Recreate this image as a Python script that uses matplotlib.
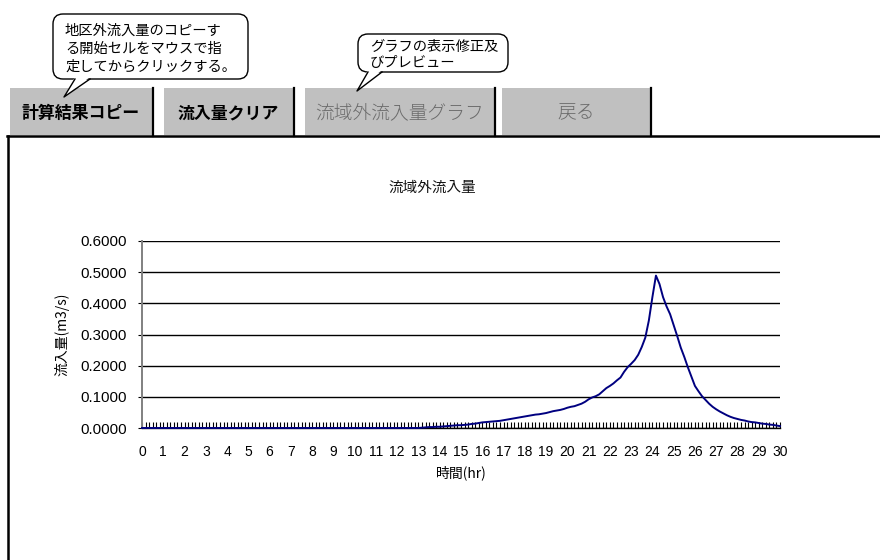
import matplotlib
matplotlib.use("Agg")
import matplotlib.pyplot as plt
from matplotlib.patches import FancyBboxPatch, Rectangle, Polygon
from matplotlib.ticker import MultipleLocator, FormatStrFormatter

plt.rcParams['font.family'] = ['Noto Sans CJK JP', 'DejaVu Sans']

# inflow hydrograph, one value every 10 minutes from 0:00 to 30:00
hours = [i / 6 for i in range(181)]
inflow = [0.000] * 78 + [
    0.000, 0.001, 0.002, 0.003, 0.003, 0.004,   # 13h
    0.004, 0.005, 0.006, 0.007, 0.008, 0.009,   # 14h
    0.009, 0.010, 0.011, 0.013, 0.014, 0.016,   # 15h
    0.018, 0.019, 0.020, 0.021, 0.022, 0.023,   # 16h
    0.025, 0.027, 0.029, 0.031, 0.033, 0.035,   # 17h
    0.037, 0.039, 0.041, 0.043, 0.044, 0.046,   # 18h
    0.048, 0.051, 0.054, 0.056, 0.058, 0.061,   # 19h
    0.065, 0.068, 0.070, 0.074, 0.078, 0.084,   # 20h
    0.092, 0.098, 0.102, 0.108, 0.118, 0.128,   # 21h
    0.135, 0.143, 0.153, 0.162, 0.180, 0.195,   # 22h
    0.206, 0.218, 0.235, 0.260, 0.290, 0.345,   # 23h
    0.420, 0.489, 0.462, 0.420, 0.390, 0.365,   # 24h
    0.330, 0.295, 0.258, 0.228, 0.195, 0.165,   # 25h
    0.135, 0.118, 0.102, 0.090, 0.078, 0.068,   # 26h
    0.060, 0.053, 0.047, 0.041, 0.036, 0.032,   # 27h
    0.029, 0.026, 0.024, 0.021, 0.019, 0.018,   # 28h
    0.016, 0.014, 0.013, 0.011, 0.010, 0.008,   # 29h
    0.006,                                      # 30h
]

buttons = ["計算結果コピー", "流入量クリア", "流域外流入量グラフ", "戻る"]
button_x = [(10, 152), (164, 293), (305, 494), (502, 650)]
button_active = [True, True, False, False]

note_copy = ["地区外流入量のコピーす", "る開始セルをマウスで指", "定してからクリックする。"]
note_graph = ["グラフの表示修正及", "びプレビュー"]

fig = plt.figure(figsize=(8.8, 5.6), dpi=100)

# sheet layer in pixel coordinates
bg = fig.add_axes([0, 0, 1, 1])
bg.set_xlim(0, 880)
bg.set_ylim(560, 0)
bg.axis("off")

for label, (x0, x1), active in zip(buttons, button_x, button_active):
    bg.add_patch(Rectangle((x0, 88), x1 - x0, 47, facecolor="#c0c0c0", edgecolor="none"))
    bg.plot([x1 + 1, x1 + 1], [88, 136], color="black", lw=1.6)
    if active:
        bg.text((x0 + x1) / 2, 113, label, ha="center", va="center",
                fontsize=12.2, fontweight="bold", color="black")
    else:
        bg.text((x0 + x1) / 2, 113, label, ha="center", va="center",
                fontsize=13.5, fontweight="light", color="#6a6a6a")

bg.plot([7, 880], [136, 136], color="black", lw=1.8)
bg.plot([8, 8], [136, 560], color="black", lw=1.8)


def bubble(x0, y0, x1, y1, tail, lines, y_first, step, size):
    bg.add_patch(FancyBboxPatch((x0, y0), x1 - x0, y1 - y0,
                                boxstyle="round,pad=0,rounding_size=10",
                                facecolor="white", edgecolor="black", lw=1.0, zorder=3))
    (bx0, tip, bx1) = tail
    bg.add_patch(Polygon([(bx0, y1 - 2), tip, (bx1, y1 - 2)], closed=True,
                         facecolor="white", edgecolor="none", zorder=4))
    bg.plot([bx0, tip[0], bx1], [y1, tip[1], y1], color="black", lw=1.0, zorder=5)
    for i, t in enumerate(lines):
        bg.text(x0 + 12, y_first + i * step, t, ha="left", va="center",
                fontsize=size, color="black", zorder=6)


bubble(53, 14, 248, 79, (75, (64, 97), 90), note_copy, 31, 18, 10.3)
bubble(358, 34, 508, 72, (368, (357, 91), 382), note_graph, 47, 16, 10.3)

bg.text(432, 188, "流域外流入量", ha="center", va="center", fontsize=10.5, color="#111111")

# chart
ax = fig.add_axes([142 / 880, (560 - 428) / 560, 638 / 880, 187 / 560])
ax.plot(hours, inflow, color="#000080", lw=1.4, clip_on=False, zorder=3)
ax.set_xlim(0, 30)
ax.set_ylim(0, 0.6)

ax.yaxis.set_major_locator(MultipleLocator(0.1))
ax.yaxis.set_major_formatter(FormatStrFormatter("%.4f"))
ax.xaxis.set_major_locator(MultipleLocator(1))
ax.xaxis.set_minor_locator(MultipleLocator(1 / 6))
ax.grid(axis="y", color="black", lw=1.0)
ax.set_axisbelow(True)

for s in ("top", "right"):
    ax.spines[s].set_visible(False)
ax.spines["left"].set_color("#808080")
ax.spines["left"].set_linewidth(1.4)
ax.spines["bottom"].set_color("black")
ax.spines["bottom"].set_linewidth(1.0)

ax.tick_params(axis="x", which="both", direction="in", length=4, width=0.8,
               color="black", pad=12, labelsize=10)
ax.tick_params(axis="y", direction="out", length=3, width=0.8, color="black",
               pad=8, labelsize=10.8)
for lab in ax.get_yticklabels() + ax.get_xticklabels():
    lab.set_family(["Liberation Sans", "DejaVu Sans"])

ax.set_xlabel("時間(hr)", fontsize=10, labelpad=5)
ax.set_ylabel("流入量(m3/s)", fontsize=10, labelpad=8)

fig.savefig("out.png", dpi=100)
